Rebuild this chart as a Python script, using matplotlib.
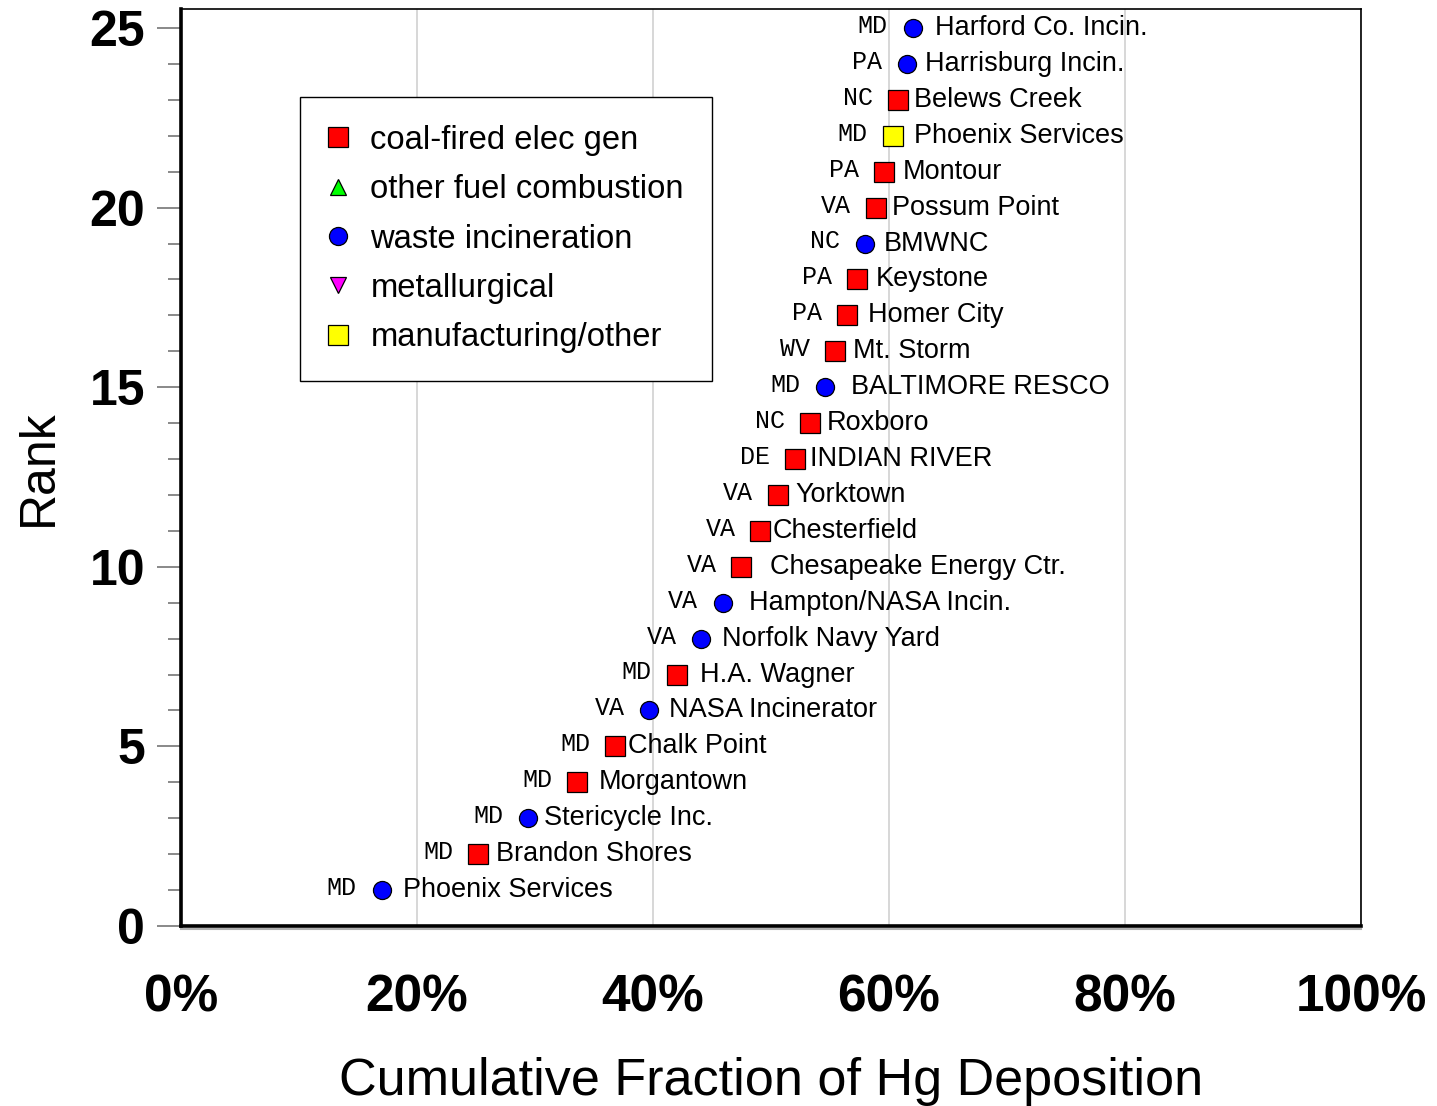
import matplotlib
matplotlib.use('Agg')
import matplotlib.pyplot as plt
from matplotlib.lines import Line2D
from matplotlib.ticker import MultipleLocator, PercentFormatter
import matplotlib.transforms as mtransforms

# rank 1..25, cumulative fraction of Hg deposition
rank = list(range(1, 26))
cum_frac = [0.170, 0.252, 0.294, 0.336, 0.368, 0.397, 0.420, 0.441, 0.459, 0.475,
            0.491, 0.506, 0.520, 0.533, 0.546, 0.554, 0.564, 0.573, 0.580, 0.589,
            0.596, 0.603, 0.608, 0.615, 0.620]
names = ['Phoenix Services', 'Brandon Shores', 'Stericycle Inc.', 'Morgantown',
         'Chalk Point', 'NASA Incinerator', 'H.A. Wagner', 'Norfolk Navy Yard',
         'Hampton/NASA Incin.', 'Chesapeake Energy Ctr.', 'Chesterfield', 'Yorktown',
         'INDIAN RIVER', 'Roxboro', 'BALTIMORE RESCO', 'Mt. Storm', 'Homer City',
         'Keystone', 'BMWNC', 'Possum Point', 'Montour', 'Phoenix Services',
         'Belews Creek', 'Harrisburg Incin.', 'Harford Co. Incin.']
states = ['MD', 'MD', 'MD', 'MD', 'MD', 'VA', 'MD', 'VA', 'VA', 'VA', 'VA', 'VA',
          'DE', 'NC', 'MD', 'WV', 'PA', 'PA', 'NC', 'VA', 'PA', 'MD', 'NC', 'PA', 'MD']
source = ['waste', 'coal', 'waste', 'coal', 'coal', 'waste', 'coal', 'waste', 'waste',
          'coal', 'coal', 'coal', 'coal', 'coal', 'waste', 'coal', 'coal', 'coal',
          'waste', 'coal', 'coal', 'manuf', 'coal', 'waste', 'waste']

categories = ['coal', 'other', 'waste', 'metal', 'manuf']
cat_labels = ['coal-fired elec gen', 'other fuel combustion', 'waste incineration',
              'metallurgical', 'manufacturing/other']

# styling
cat_marker = {'coal': 's', 'other': '^', 'waste': 'o', 'metal': 'v', 'manuf': 's'}
cat_color = {'coal': '#ff0000', 'other': '#00ff00', 'waste': '#0000ff',
             'metal': '#ff00ff', 'manuf': '#ffff00'}
cat_size = {'coal': 14, 'other': 12, 'waste': 13, 'metal': 12, 'manuf': 14}
label_gap_px = [21, 18, 16, 21, 13, 20, 23, 21, 26, 29, 12, 17, 15, 17, 26,
                18, 21, 19, 18, 16, 18, 21, 16, 18, 22]

plt.rcParams['font.family'] = ['Liberation Sans', 'DejaVu Sans']

fig = plt.figure(figsize=(14.37, 11.06), dpi=100)
ax = fig.add_axes([181 / 1437, 180 / 1106, 1180 / 1437, 917 / 1106])

for x, y, c in zip(cum_frac, rank, source):
    ax.plot(x, y, marker=cat_marker[c], ms=cat_size[c], mfc=cat_color[c],
            mec='black', mew=0.9, ls='none', zorder=3)

for x, y, nm, st, gap in zip(cum_frac, rank, names, states, label_gap_px):
    ax.annotate(nm, (x, y), xytext=(gap * 0.72, 0), textcoords='offset points',
                ha='left', va='center', fontsize=19.5, zorder=4)
    ax.annotate(st, (x, y), xytext=(-25 * 0.72, 1.5), textcoords='offset points',
                ha='right', va='center', fontsize=18, family='Liberation Mono', zorder=4)

ax.set_xlim(0, 1.0)
ax.set_ylim(0, 25.53)

ax.xaxis.set_major_locator(MultipleLocator(0.2))
ax.xaxis.set_major_formatter(PercentFormatter(1.0, decimals=0))
ax.yaxis.set_major_locator(MultipleLocator(5))
ax.yaxis.set_minor_locator(MultipleLocator(1))

ax.grid(axis='x', color='#d4d4d4', lw=1.3, zorder=0)
ax.set_axisbelow(True)

ax.tick_params(axis='x', length=0, pad=34, labelsize=37)
ax.tick_params(axis='y', which='major', length=17, width=1.3, color='#808080',
               pad=9, labelsize=36)
ax.tick_params(axis='y', which='minor', length=9.5, width=1.3, color='#808080')
for lab in ax.get_xticklabels() + ax.get_yticklabels():
    lab.set_fontweight('bold')

for s in ['left', 'bottom']:
    ax.spines[s].set_linewidth(2.6)
for s in ['top', 'right']:
    ax.spines[s].set_linewidth(1.2)

# grey shadow under the x axis line
shadow = mtransforms.offset_copy(ax.transAxes, fig=fig, x=0, y=-2.2, units='points')
ax.plot([0.0, 1.0], [0, 0], color='#b0b0b0', lw=1.5, transform=shadow, clip_on=False)

ax.set_xlabel('Cumulative Fraction of Hg Deposition', fontsize=37.5, labelpad=25)
ax.set_ylabel('Rank', fontsize=36, labelpad=20)

handles = [Line2D([], [], marker=cat_marker[c], ms=cat_size[c], mfc=cat_color[c],
                  mec='black', mew=0.9, ls='none') for c in categories]
leg = ax.legend(handles, cat_labels, loc='upper left', bbox_to_anchor=(0.1008, 0.904),
                borderaxespad=0, fontsize=23.6, frameon=True, fancybox=False,
                edgecolor='black', framealpha=1, handlelength=0.63, handletextpad=0.67,
                labelspacing=0.56, borderpad=0.85)
leg.get_frame().set_linewidth(1.0)

fig.savefig('out.png', dpi=100)
